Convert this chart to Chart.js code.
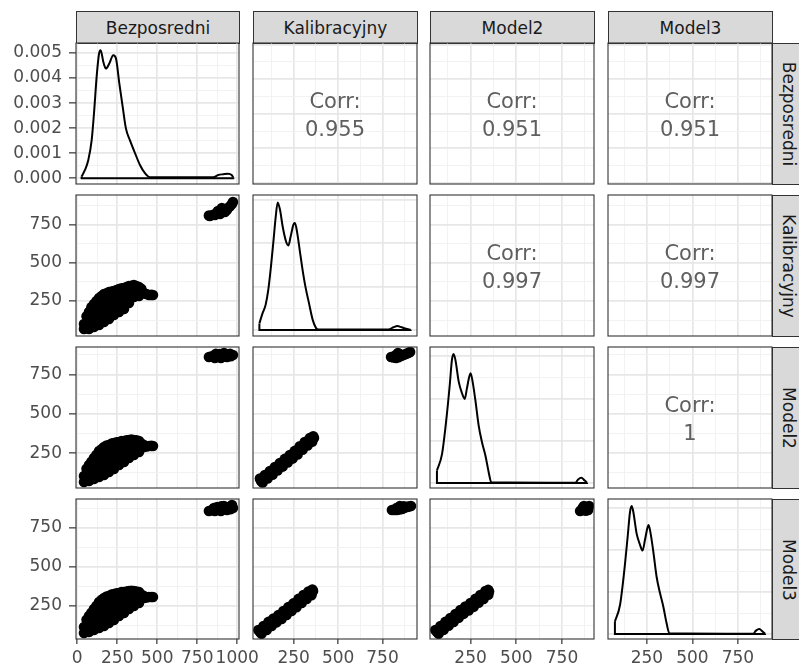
<!DOCTYPE html>
<html><head><meta charset="utf-8">
<script src="https://cdn.jsdelivr.net/npm/chart.js@4.4.0/dist/chart.umd.min.js"></script>
<style>
html,body{margin:0;padding:0;background:#fff;width:799px;height:665px;overflow:hidden;position:relative;font-family:"DejaVu Sans",sans-serif;}
.strip{position:absolute;background:#D9D9D9;border:1px solid #333;box-sizing:border-box;color:#1A1A1A;font-size:17px;display:flex;align-items:center;justify-content:center;white-space:nowrap;overflow:hidden;}
.strip.v span{display:block;transform:rotate(90deg);}
.corr{position:absolute;color:#5f5f5f;font-size:21px;text-align:center;line-height:24px;height:24px;white-space:nowrap;}
canvas{position:absolute;}
</style></head><body>
<script>
// ---------- data ----------
const variables = ['Bezposredni', 'Kalibracyjny', 'Model2', 'Model3'];
const corrLabels = { '01': '0.955', '02': '0.951', '03': '0.951', '12': '0.997', '13': '0.997', '23': '1' };

const limitsBez = [-8, 1011];
const limitsKal = [21, 944];
const limitsM2 = [28, 925];
const limitsM3 = [36, 937];
const breaksBez = [0, 250, 500, 750, 1000];
const breaksVal = [250, 500, 750];
const densLimitsBez = [-0.00023, 0.0054];
const densLimitsKal = [-0.00028, 0.0062];
const densLimitsM2 = [-0.00024, 0.00644];
const densLimitsM3 = [-0.00024, 0.00644];
const densBreaksBez = [0, 0.001, 0.002, 0.003, 0.004, 0.005];
const densBreaksOther = [0, 0.002, 0.004, 0.006];

// density curves [value, density]
const densBez = [[27,0.00007],[48,0.00033],[69,0.00073],[90,0.00152],[106,0.00272],[121,0.00405],[136,0.00497],[146,0.00511],[163,0.00464],[179,0.00438],[200,0.00458],[225,0.00491],[242,0.00478],[263,0.00378],[284,0.00285],[304,0.00199],[329,0.00152],[361,0.001],[392,0.00053],[423,0.0002],[454,0.00004],[850,0.00004],[881,0.00013],[913,0.00016],[944,0.00018],[965,0.00013],[975,0.00004]];
const densKal = [[57,0.0003],[60,0.00038],[75,0.00077],[92,0.00115],[107,0.00184],[122,0.00291],[135,0.00399],[149,0.00521],[160,0.00586],[173,0.00552],[188,0.00475],[207,0.00406],[220,0.00388],[233,0.00429],[248,0.00483],[257,0.00491],[270,0.00445],[285,0.0036],[300,0.00276],[316,0.00199],[336,0.00123],[357,0.00046],[376,0.00008],[389,0.00002],[783,0.00002],[811,0.00012],[833,0.00018],[858,0.00012],[882,0.00005],[908,0.00001]];
const densM2 = [[66,0.00059],[94,0.00138],[116,0.0029],[136,0.00464],[148,0.00583],[157,0.00611],[167,0.00583],[185,0.0048],[203,0.00425],[218,0.00398],[230,0.00448],[243,0.00504],[250,0.0052],[261,0.0048],[276,0.00393],[294,0.00273],[312,0.00194],[331,0.0013],[349,0.00051],[363,0.00003],[823,0.00001],[838,0.00016],[856,0.00024],[874,0.00011],[887,0.00001]];
const densM3 = [[74,0.00059],[102,0.00138],[124,0.0029],[144,0.00464],[157,0.00583],[166,0.00611],[175,0.00583],[193,0.0048],[212,0.00425],[226,0.00398],[239,0.00448],[252,0.00504],[259,0.0052],[270,0.0048],[285,0.00393],[303,0.00273],[322,0.00194],[340,0.0013],[358,0.00051],[373,0.00003],[834,0.00001],[849,0.00016],[867,0.00024],[886,0.00011],[899,0.00001]];

// scatter observations [x, y]
const bezVsKal = [[42,67],[42,100],[73,178],[73,139],[73,100],[73,67],[104,230],[104,191],[104,152],[104,113],[104,80],[136,270],[136,230],[136,191],[136,152],[136,119],[136,93],[167,296],[167,257],[167,217],[167,178],[167,139],[167,113],[198,309],[198,270],[198,230],[198,191],[198,152],[198,132],[229,316],[229,276],[229,237],[229,198],[229,158],[261,329],[261,289],[261,250],[261,211],[261,178],[292,335],[292,296],[292,257],[292,217],[292,198],[323,348],[323,309],[323,270],[323,237],[354,355],[354,316],[354,276],[386,342],[386,309],[386,283],[417,302],[448,289],[473,289],[58,150],[88,210],[120,250],[152,283],[183,300],[214,312],[245,322],[277,333],[308,342],[338,350],[370,348],[400,330],[432,296],[462,290],[400,300],[823,810],[829,807],[860,813],[892,820],[923,833],[904,859],[942,859],[967,885],[973,898],[879,839],[850,815],[870,825],[910,835],[935,845],[955,870],[915,845],[890,830]];
const bezVsM2 = [[42,66],[42,104],[73,73],[73,111],[73,149],[73,174],[104,85],[104,123],[104,162],[104,200],[104,219],[136,98],[136,136],[136,174],[136,212],[136,251],[136,263],[167,111],[167,149],[167,187],[167,225],[167,263],[167,289],[198,130],[198,168],[198,206],[198,244],[198,282],[198,302],[229,149],[229,187],[229,225],[229,263],[229,302],[229,314],[261,174],[261,212],[261,251],[261,289],[261,321],[292,193],[292,232],[292,270],[292,308],[292,327],[323,219],[323,257],[323,295],[323,333],[354,238],[354,276],[354,314],[354,333],[386,257],[386,295],[386,327],[417,289],[417,302],[448,295],[473,295],[58,150],[88,195],[120,240],[152,275],[183,298],[214,310],[245,318],[277,326],[308,332],[338,336],[370,332],[402,310],[432,292],[462,296],[823,861],[860,855],[898,855],[936,861],[973,874],[917,887],[866,881],[840,866],[880,868],[910,870],[950,874],[930,880],[960,866],[890,880],[955,881]];
const bezVsM3 = [[42,75],[42,113],[73,81],[73,120],[73,158],[73,184],[104,94],[104,133],[104,171],[104,210],[104,229],[136,107],[136,145],[136,184],[136,223],[136,261],[136,274],[167,120],[167,158],[167,197],[167,235],[167,274],[167,300],[198,139],[198,178],[198,216],[198,255],[198,293],[198,313],[229,158],[229,197],[229,235],[229,274],[229,313],[229,326],[261,184],[261,223],[261,261],[261,300],[261,332],[292,203],[292,242],[292,281],[292,319],[292,338],[323,229],[323,268],[323,306],[323,345],[354,248],[354,287],[354,326],[354,345],[386,268],[386,306],[386,338],[417,300],[417,313],[448,306],[473,306],[58,160],[88,205],[120,250],[152,288],[183,310],[214,322],[245,330],[277,338],[308,342],[338,346],[370,342],[402,320],[432,303],[462,306],[823,860],[860,860],[898,860],[936,866],[973,879],[917,892],[967,898],[854,879],[840,865],[880,868],[910,875],[950,885],[930,880],[960,872],[875,885],[900,890]];
const kalVsM2 = [[66,73],[94,98],[122,123],[150,149],[179,174],[207,200],[235,225],[263,251],[291,283],[319,308],[347,333],[364,346],[80,86],[108,111],[136,136],[165,162],[193,187],[221,213],[249,238],[277,267],[305,296],[333,321],[356,340],[75,63],[103,88],[131,113],[159,139],[188,164],[216,190],[244,215],[272,241],[300,271],[328,298],[354,322],[60,88],[88,111],[116,136],[144,162],[172,187],[200,213],[228,238],[256,264],[284,294],[312,320],[340,345],[360,357],[798,861],[826,855],[854,868],[882,881],[905,893],[837,887],[812,858],[840,860],[868,874],[895,887],[850,878],[820,870]];
const kalVsM3 = [[60,81],[89,107],[117,133],[145,155],[173,178],[201,203],[229,229],[257,252],[286,281],[314,306],[342,329],[359,345],[75,94],[103,120],[131,144],[159,167],[187,191],[215,216],[243,241],[272,267],[300,294],[328,318],[351,337],[69,69],[98,94],[126,120],[154,143],[182,165],[210,190],[238,216],[266,240],[295,268],[323,293],[350,318],[51,94],[80,119],[108,146],[136,168],[164,190],[192,216],[220,242],[248,265],[277,294],[305,319],[333,342],[355,355],[803,866],[831,866],[860,873],[888,886],[910,892],[848,892],[817,866],[845,869],[874,880],[899,889],[828,878],[870,890]];
const m2VsM3 = [[66,81],[94,107],[121,133],[148,158],[176,184],[203,210],[230,232],[258,255],[285,281],[312,306],[340,332],[351,342],[80,94],[108,120],[135,146],[162,171],[190,197],[217,221],[244,244],[272,268],[299,294],[326,319],[346,337],[75,69],[103,95],[130,121],[157,146],[185,172],[212,198],[239,220],[267,243],[294,269],[321,294],[347,321],[57,94],[85,120],[112,146],[139,171],[167,197],[194,223],[221,245],[249,268],[276,294],[303,319],[331,345],[346,352],[849,860],[876,873],[898,892],[870,892],[893,866],[860,866],[885,880],[880,862],[862,878]];

// ---------- layout ----------
const colLeft = [76, 253, 430, 608];
const colWidth = [163, 164, 164, 164];
const rowTop = [43, 195, 347, 499];
const rowHeight = [141, 141, 141, 140];
const PL = 80, PT = 12, PR = 34, PB = 34;

const varLimits = [limitsBez, limitsKal, limitsM2, limitsM3];
const varBreaks = [breaksBez, breaksVal, breaksVal, breaksVal];
const densLimits = [densLimitsBez, densLimitsKal, densLimitsM2, densLimitsM3];
const densBreaks = [densBreaksBez, densBreaksOther, densBreaksOther, densBreaksOther];
const densCurves = [densBez, densKal, densM2, densM3];
const scatterData = { '10': bezVsKal, '20': bezVsM2, '30': bezVsM3, '21': kalVsM2, '31': kalVsM3, '32': m2VsM3 };

Chart.defaults.font.family = '"DejaVu Sans", sans-serif';

function tickList(breaks, lim) {
  const step = breaks[1] - breaks[0];
  const ext = [breaks[0] - step, ...breaks, breaks[breaks.length - 1] + step];
  const out = [];
  for (let i = 0; i < ext.length; i++) {
    if (i > 0) {
      const m = (ext[i - 1] + ext[i]) / 2;
      if (m >= lim[0] && m <= lim[1]) out.push({ v: m, major: false });
    }
    if (ext[i] >= lim[0] && ext[i] <= lim[1]) out.push({ v: ext[i], major: true });
  }
  return out;
}

function axisCfg(lim, breaks, showLabels, fmt, isX) {
  const tk = tickList(breaks, lim);
  const majors = tk.filter(t => t.major).map(t => t.v);
  const eps = (lim[1] - lim[0]) * 1e-6;
  const isMaj = v => majors.some(m => Math.abs(m - v) < eps);
  const tickIsMaj = c => c.tick && isMaj(c.tick.value);
  return {
    type: 'linear', min: lim[0], max: lim[1], position: isX ? 'bottom' : 'left',
    afterBuildTicks: s => { s.ticks = tk.map(t => ({ value: t.v })); },
    afterFit: s => {
      if (isX) s.height = PB; else s.width = PL;
      s.paddingLeft = 0; s.paddingRight = 0; s.paddingTop = 0; s.paddingBottom = 0;
    },
    border: { display: false },
    grid: {
      drawOnChartArea: true, drawTicks: showLabels, tickLength: isX ? 5 : 7,
      color: c => tickIsMaj(c) ? '#E7E7E7' : '#F0F0F0',
      lineWidth: c => tickIsMaj(c) ? 1.7 : 0.9,
      tickColor: c => tickIsMaj(c) ? '#333333' : 'rgba(0,0,0,0)',
      tickWidth: 1.2
    },
    ticks: {
      display: showLabels, autoSkip: false, maxRotation: 0, minRotation: 0,
      padding: isX ? 4 : 7, color: '#4D4D4D', font: { size: 17 },
      callback: v => isMaj(v) ? fmt(v) : ''
    }
  };
}

const frame = {
  id: 'frame',
  afterDraw(ch) {
    const a = ch.chartArea, ctx = ch.ctx;
    ctx.save();
    ctx.strokeStyle = '#333333';
    ctx.lineWidth = 1.1;
    ctx.strokeRect(a.left, a.top, a.right - a.left, a.bottom - a.top);
    ctx.restore();
  }
};

const fmtVal = v => String(Math.round(v));
const fmtDens = v => v.toFixed(3);

function makePanel(r, c) {
  const x0 = colLeft[c], y0 = rowTop[r], w = colWidth[c], h = rowHeight[r];
  const W = w + PL + PR, H = h + PT + PB;
  const cv = document.createElement('canvas');
  cv.width = W; cv.height = H;
  cv.style.left = (x0 - PL) + 'px'; cv.style.top = (y0 - PT) + 'px';
  cv.style.width = W + 'px'; cv.style.height = H + 'px';
  document.body.appendChild(cv);

  const xAxis = axisCfg(varLimits[c], varBreaks[c], r === 3, fmtVal, true);
  let yAxis;
  const datasets = [];
  if (r === c) {
    yAxis = axisCfg(densLimits[r], densBreaks[r], c === 0, fmtDens, false);
    const curve = densCurves[r];
    const first = curve[0], last = curve[curve.length - 1];
    datasets.push({
      data: curve.map(p => ({ x: p[0], y: p[1] })), showLine: true, borderColor: '#000',
      borderWidth: 2, pointRadius: 0, cubicInterpolationMode: 'monotone', fill: false
    });
    datasets.push({
      data: [{ x: last[0], y: last[1] }, { x: last[0], y: 0 }, { x: first[0], y: 0 }, { x: first[0], y: first[1] }],
      showLine: true, borderColor: '#000', borderWidth: 2, pointRadius: 0, tension: 0, fill: false
    });
  } else {
    yAxis = axisCfg(varLimits[r], varBreaks[r], c === 0, fmtVal, false);
    if (r > c) {
      datasets.push({
        data: scatterData['' + r + c].map(p => ({ x: p[0], y: p[1] })),
        pointRadius: 5.3, pointBackgroundColor: '#000', pointBorderWidth: 0, showLine: false
      });
    }
  }

  new Chart(cv, {
    type: 'scatter',
    data: { datasets },
    options: {
      responsive: false, animation: false, devicePixelRatio: 1,
      layout: { padding: { left: 0, top: PT, right: PR, bottom: 0 } },
      plugins: { legend: { display: false }, tooltip: { enabled: false } },
      scales: { x: xAxis, y: yAxis }
    },
    plugins: [frame]
  });

  if (r < c) {
    const cy = y0 + h / 2;
    const lines = ['Corr:', corrLabels['' + r + c]];
    const offs = [-12.7, 15.7];
    lines.forEach((t, i) => {
      const d = document.createElement('div');
      d.className = 'corr';
      d.textContent = t;
      d.style.left = x0 + 'px'; d.style.width = w + 'px';
      d.style.top = (cy + offs[i] - 12) + 'px';
      document.body.appendChild(d);
    });
  }
}

// strips
variables.forEach((name, i) => {
  const t = document.createElement('div');
  t.className = 'strip';
  t.style.left = colLeft[i] + 'px'; t.style.width = (colWidth[i] + 1) + 'px';
  t.style.top = '11px'; t.style.height = (rowTop[0] - 11 + 1) + 'px';
  t.textContent = name;
  document.body.appendChild(t);
  const s = document.createElement('div');
  s.className = 'strip v';
  s.style.left = (colLeft[3] + colWidth[3]) + 'px'; s.style.width = '34px';
  s.style.top = rowTop[i] + 'px'; s.style.height = (rowHeight[i] + 1) + 'px';
  const sp = document.createElement('span');
  sp.textContent = name;
  s.appendChild(sp);
  document.body.appendChild(s);
});

for (let r = 0; r < 4; r++) for (let c = 0; c < 4; c++) makePanel(r, c);
</script>
</body></html>
